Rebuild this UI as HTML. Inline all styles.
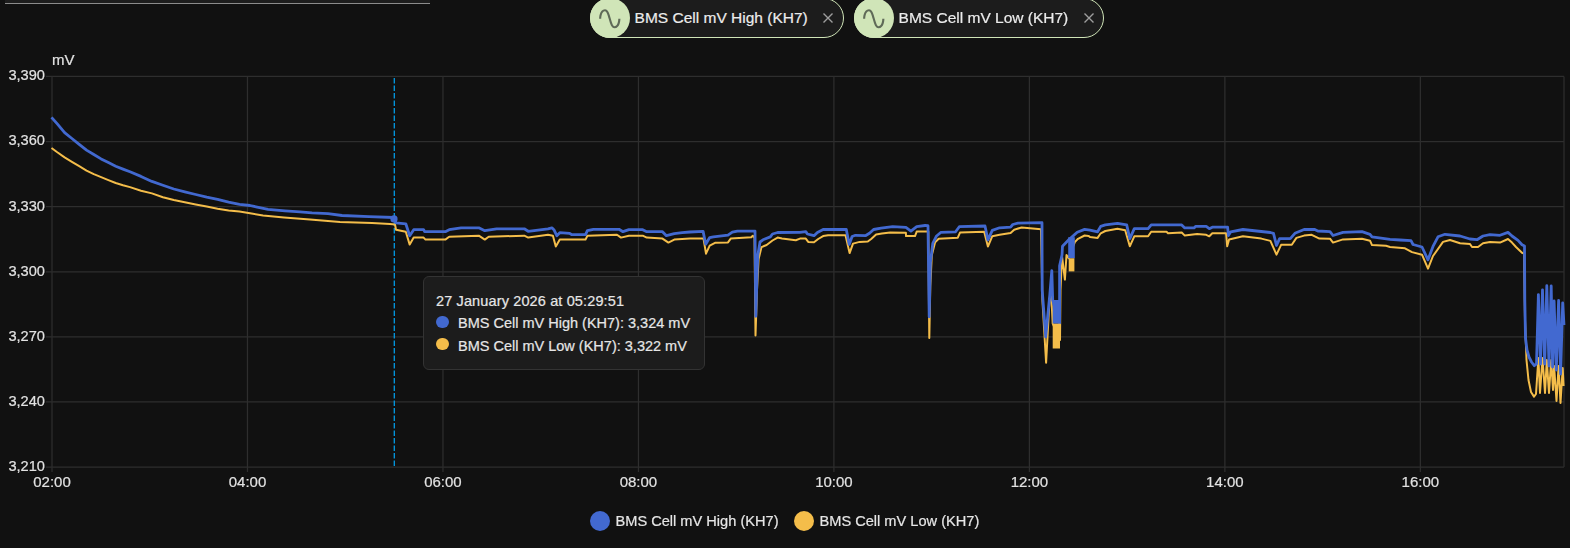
<!DOCTYPE html>
<html><head><meta charset="utf-8">
<style>
html,body{margin:0;padding:0;}
body{width:1570px;height:548px;background:#111111;overflow:hidden;position:relative;font-family:"Liberation Sans",sans-serif;}
.field{position:absolute;left:5px;top:-10px;width:425px;height:13px;background:#1d1d1d;border-bottom:1.25px solid #8c8c8c;}
.chip{position:absolute;top:-2px;height:38px;border:1px solid #d0e5b8;border-radius:21px;background:#1c1c1c;box-sizing:content-box;}
.chip .ic{position:absolute;left:-1px;top:-1.2px;width:40px;height:40px;border-radius:50%;background:#d0e5b8;}
.chip .ic svg{position:absolute;left:6.7px;top:7.9px;width:25.5px;height:25.5px;}
.chip .tx{position:absolute;top:10.3px;font-size:15.5px;color:#ececec;-webkit-text-stroke:0.2px #ececec;white-space:nowrap;line-height:17px;}
.chip .x{position:absolute;top:13.7px;width:10px;height:10px;}
svg.chart{position:absolute;left:0;top:0;will-change:transform;}
.tip{position:absolute;left:423px;top:276px;width:280px;height:91.6px;background:#1c1c1c;border:1.25px solid #333333;border-radius:6px;color:#e6e6e6;font-size:14.5px;-webkit-text-stroke:0.2px #e6e6e6;}
.tip .r{position:absolute;left:12px;white-space:nowrap;line-height:17px;}
.tip .d{position:absolute;left:12px;width:12.5px;height:12.5px;border-radius:50%;}
.legend{position:absolute;top:510px;font-size:14.6px;color:#e6e6e6;-webkit-text-stroke:0.2px #e6e6e6;white-space:nowrap;}
.legend .d{position:absolute;width:20px;height:20px;border-radius:50%;top:0.8px;}
.legend .t{position:absolute;top:2.6px;line-height:17px;}
</style></head><body>
<div class="field"></div>
<svg class="chart" width="1570" height="548" viewBox="0 0 1570 548">
<g stroke="#2e2e2e" stroke-width="1.25" fill="none"><line x1="46" y1="76.40" x2="1564" y2="76.40"/><line x1="46" y1="141.52" x2="1564" y2="141.52"/><line x1="46" y1="206.63" x2="1564" y2="206.63"/><line x1="46" y1="271.75" x2="1564" y2="271.75"/><line x1="46" y1="336.87" x2="1564" y2="336.87"/><line x1="46" y1="401.98" x2="1564" y2="401.98"/><line x1="46" y1="467.10" x2="1564" y2="467.10"/><line x1="52.00" y1="76.4" x2="52.00" y2="472"/><line x1="247.48" y1="76.4" x2="247.48" y2="472"/><line x1="442.96" y1="76.4" x2="442.96" y2="472"/><line x1="638.44" y1="76.4" x2="638.44" y2="472"/><line x1="833.92" y1="76.4" x2="833.92" y2="472"/><line x1="1029.40" y1="76.4" x2="1029.40" y2="472"/><line x1="1224.88" y1="76.4" x2="1224.88" y2="472"/><line x1="1420.36" y1="76.4" x2="1420.36" y2="472"/><line x1="1564" y1="76.4" x2="1564" y2="467.1"/></g>
<line x1="394.3" y1="78" x2="394.3" y2="467" stroke="#039be5" stroke-width="1.3" stroke-dasharray="5.5 2"/>
<g font-family="'Liberation Sans', sans-serif" font-size="15" fill="#e2e2e2" stroke="#e2e2e2" stroke-width="0.2"><text x="45" y="80.30" text-anchor="end" textLength="36.6" lengthAdjust="spacingAndGlyphs">3,390</text><text x="45" y="145.42" text-anchor="end" textLength="36.6" lengthAdjust="spacingAndGlyphs">3,360</text><text x="45" y="210.53" text-anchor="end" textLength="36.6" lengthAdjust="spacingAndGlyphs">3,330</text><text x="45" y="275.65" text-anchor="end" textLength="36.6" lengthAdjust="spacingAndGlyphs">3,300</text><text x="45" y="340.77" text-anchor="end" textLength="36.6" lengthAdjust="spacingAndGlyphs">3,270</text><text x="45" y="405.88" text-anchor="end" textLength="36.6" lengthAdjust="spacingAndGlyphs">3,240</text><text x="45" y="471.00" text-anchor="end" textLength="36.6" lengthAdjust="spacingAndGlyphs">3,210</text><text x="52.00" y="487.3" text-anchor="middle">02:00</text><text x="247.48" y="487.3" text-anchor="middle">04:00</text><text x="442.96" y="487.3" text-anchor="middle">06:00</text><text x="638.44" y="487.3" text-anchor="middle">08:00</text><text x="833.92" y="487.3" text-anchor="middle">10:00</text><text x="1029.40" y="487.3" text-anchor="middle">12:00</text><text x="1224.88" y="487.3" text-anchor="middle">14:00</text><text x="1420.36" y="487.3" text-anchor="middle">16:00</text><text x="52" y="65">mV</text></g>
<polyline points="51.5,148 57.3,152.3 64.6,157.4 71.9,161.8 79.2,166.2 86.5,170.6 93.8,174.2 101.1,177.2 108.4,180.1 115.7,183 123,185.2 130,187.1 141,190.7 151.9,193.4 162.9,197.2 173.8,200 184.8,202.2 195.7,204.4 206.7,206.5 217.6,208.7 228.6,210.4 239.5,211.5 250,213.2 263,215.5 284,217.5 310,219.6 340,222.1 372,223.1 390,224.1 395,224.5 396,229.7 405.8,231.7 409.7,244.6 413.7,237.6 423.6,237.6 425.5,239.6 445.3,239.6 449.2,236.7 478.8,235.7 484.8,239.6 488.7,236.7 524.3,235.7 528.2,237.6 548,234.7 552.9,235.7 555.8,246.5 559.8,239.6 585.5,239.6 587.4,235.7 617,234.7 621,237.6 628.9,235.7 642.7,235.7 646.7,237.6 662.5,238.6 668.4,242.6 674.3,239.6 690,238.4 703.5,238.5 706,253.7 709.7,245.7 715.5,242.7 728,242.4 730.9,238.4 751.3,237.3 752.8,235.8 754.5,237.5 755.5,335.5 757,290 758.6,259 761.5,247.1 766.6,245 772.5,240.5 777.6,237.6 782,238.4 795.8,240.2 800,238.6 805.8,238.6 808.2,241.9 814,242.3 818.2,239 823.1,236.1 828.1,235.3 845.5,235.3 849.6,253.1 853,243.6 859.6,241.9 867.8,241.5 871.2,239 876.1,234.5 881.9,233.6 890.2,232.4 905.9,232.8 906,236.1 915,236.1 916.7,231.6 928.3,231.6 929.3,338 930.3,286 931.8,255.2 935.1,242.2 938.7,238.7 957.8,237.7 960,232.6 984.2,231.8 987.9,246.5 992.3,236.2 999.6,234.8 1010.6,233 1014.2,229.7 1021.6,227.5 1041,229.3 1042.4,300 1046.1,362.8 1049.5,300 1051,290 1052.7,323.7 1060,340 1060.5,290 1062,256 1064.9,279.6 1066.5,255 1068.7,258.3 1074.8,242.1 1078,238.8 1084.6,235.5 1088.7,235.9 1090,237.1 1097.6,237.9 1100.7,233.3 1105.3,231 1117.5,228.7 1125.2,230.2 1129.8,246.3 1134.3,236.3 1148.1,236.3 1151.2,231.8 1166.5,231.8 1168,233.3 1181.7,232.5 1184.8,235.6 1197,234.1 1206.2,234.8 1209.3,236.3 1212.3,233.3 1226.1,233.3 1227.2,246.3 1229.1,239.4 1242.9,236.3 1261.3,238.6 1270.4,240.9 1276.5,254.7 1281.1,244.8 1291.8,244.8 1296.4,237.9 1304.1,235.6 1311.7,234.8 1319.4,238.6 1330,238.7 1333,242.6 1343,239.4 1362,238.7 1370,240.7 1372,245.1 1386,245.8 1390,247 1405,248.3 1412,252.1 1422,254.7 1428,268.7 1433,256 1443,241.9 1450,240 1460,243.3 1470,244 1472,247 1478,247 1483,243.3 1490,241.9 1500,242.6 1508,239 1512,242.6 1516,247 1522,252.8 1524,253.5 1525,320 1526.5,360 1528.5,380 1531,392 1534,396.6 1536,394 1538.4,358 1540,393 1542.5,358 1545,393 1546.8,360 1549,393 1551.2,360 1553,390 1554.1,366 1556.5,401 1558.6,366 1560.5,403 1562.7,368 1563.6,386" fill="none" stroke="#f4bd4a" stroke-width="2" stroke-linejoin="round"/>
<polyline points="51.5,117.3 57.3,123.9 64.6,132.6 71.9,138.5 79.2,144.3 86.5,150.1 93.8,154.5 101.1,158.9 108.4,162.6 115.7,166.2 123,169.1 130,171.8 141,176.4 151.9,181.4 162.9,185.2 173.8,189 184.8,191.8 195.7,194.5 206.7,197.2 217.6,199.4 228.6,202.2 239.5,204.4 250,205.5 256,206.8 268,209.4 285,210.9 300,211.9 312,212.9 328,213.6 342,215.5 369,216.7 394,217.5 395.9,222.8 405.8,223.8 409.7,235.7 413.7,229.7 423.6,229.7 424.6,231.7 445.3,231.7 449.2,229.7 461.1,227.8 478.8,227.8 484.8,230.7 496.6,228.8 524.3,228.8 528.2,231.3 548,228.8 551.9,227.8 553.9,229.7 556.8,235.7 559.8,232.7 569.7,233.3 571.6,234.7 585.5,234.7 587.4,230.7 593.4,229.3 619,229.3 623,231.7 628.9,229.7 642.7,229.7 646.7,231.7 662.5,231.7 666.4,235.7 674.3,233.7 682.2,232.7 690,232 703.1,231.4 705.7,244.2 709.7,237.6 713.4,236.9 728,235.1 732.3,232.2 737.4,231.1 755,231.1 755.8,316.3 757.2,270 757.9,255 760,242 763,239.8 770.3,236.9 772.5,234 777.6,232.5 800,232.3 805.8,231.6 807.4,234 814,235.7 817.4,232.4 823.1,229.5 846.3,229.5 849.2,244.4 852.1,236.5 855.4,235.3 865.4,235.7 869.5,233.2 873.6,229.5 881.1,228.2 892.7,226.6 905.9,227.4 910.9,231.1 916.7,226.6 925,225.5 928,225.7 929.2,316.8 930.4,262.3 932.8,243.4 936.3,236.3 941,232.3 955.6,231.8 959.3,226.7 985,226 987.9,239.9 992.3,230.4 999.6,227.8 1010.6,227.1 1012.8,224.5 1017.9,223.1 1042,222.7 1042.2,290 1045.7,336.9 1049.8,295 1051.8,270.6 1052.7,300 1059.6,323 1059.6,265.7 1062,255 1062.5,246.2 1069,239.6 1077.2,232.2 1084.6,229.4 1090,230.2 1097.6,231.8 1100.7,226.4 1105.3,224.9 1117.5,223.3 1126.7,224.9 1129.8,238.6 1134.3,228.7 1148.1,228.7 1151.2,224.9 1181.7,224.9 1184.8,227.9 1194,227.9 1195.5,226.4 1206.2,226.4 1209.3,228.7 1212.3,227.2 1227.6,227.2 1228.4,235.6 1230.7,231.8 1242.9,229.5 1270.4,232.5 1273.5,233.3 1276.5,245.5 1279.6,238.6 1290.3,238.6 1294.9,233.3 1304.1,229.5 1314.8,229.5 1317.8,231 1330,231.7 1333,235.5 1343,232.3 1362,231.7 1370,234.3 1372,236.8 1390,239.4 1400,240 1411,240.7 1413,244.5 1422,247 1428,259.8 1433,246.4 1438,236.8 1445,234.3 1460,236 1470,239 1477,239.7 1483,236 1490,234.6 1500,235.3 1508,232.4 1512,236 1518,240.4 1522,244.8 1524.5,246 1524.8,300 1525.5,338 1527,350 1529,357 1531.5,362 1534.3,365.7 1536.5,364 1538.4,294.6 1540.5,364 1542.5,289.8 1544.7,364 1546.8,285.7 1549,366 1551.2,285.9 1552.6,367 1554.1,301 1556.3,370 1558.6,300.5 1560.6,374 1562.7,302.9 1564,325" fill="none" stroke="#4269d0" stroke-width="2.8" stroke-linejoin="round"/>
<rect x="1052.7" y="300" width="6.9" height="23.7" fill="#4269d0"/>
<rect x="1052.7" y="323.7" width="7.3" height="24.8" fill="#f4bd4a"/>
<rect x="1068.2" y="237.2" width="6.6" height="21.1" fill="#4269d0"/>
<rect x="1068.7" y="258.3" width="5.7" height="13.1" fill="#f4bd4a"/>
<circle cx="394" cy="218.9" r="3.6" fill="#4269d0"/>
</svg>
<div class="chip" style="left:590px;width:251.5px;">
  <div class="ic"><svg width="24" height="24" viewBox="0 0 24 24"><path fill="#5f6a58" d="M16.5,21C13.5,21 12.31,16.76 11.05,12.28C10.14,9.04 9,5 7.5,5C4.11,5 4,11.93 4,12H2C2,11.63 2.06,3 7.5,3C10.5,3 11.71,7.25 12.97,11.74C13.83,14.8 15,19 16.5,19C19.94,19 20.03,12.07 20.030,12H22.03C22.03,12.37 21.97,21 16.5,21Z"/></svg></div>
  <div class="tx" style="left:43.6px;">BMS Cell mV High (KH7)</div>
  <svg class="x" style="left:231.9px" viewBox="0 0 10 10"><path d="M0.5 0.5L9.5 9.5M9.5 0.5L0.5 9.5" stroke="#9e9e9e" stroke-width="1.4"/></svg>
</div>
<div class="chip" style="left:854px;width:247.7px;">
  <div class="ic"><svg width="24" height="24" viewBox="0 0 24 24"><path fill="#5f6a58" d="M16.5,21C13.5,21 12.31,16.76 11.05,12.28C10.14,9.04 9,5 7.5,5C4.11,5 4,11.93 4,12H2C2,11.63 2.06,3 7.5,3C10.5,3 11.71,7.25 12.97,11.74C13.83,14.8 15,19 16.5,19C19.94,19 20.03,12.07 20.030,12H22.03C22.03,12.37 21.97,21 16.5,21Z"/></svg></div>
  <div class="tx" style="left:43.6px;">BMS Cell mV Low (KH7)</div>
  <svg class="x" style="left:228.9px" viewBox="0 0 10 10"><path d="M0.5 0.5L9.5 9.5M9.5 0.5L0.5 9.5" stroke="#9e9e9e" stroke-width="1.4"/></svg>
</div>
<div class="tip">
  <div class="r" style="top:15.8px;letter-spacing:0.13px;">27 January 2026 at 05:29:51</div>
  <div class="d" style="top:38.6px;background:#4269d0;"></div>
  <div class="r" style="top:37.7px;left:34px;">BMS Cell mV High (KH7): 3,324 mV</div>
  <div class="d" style="top:60.8px;background:#f4bd4a;"></div>
  <div class="r" style="top:60.8px;left:34px;">BMS Cell mV Low (KH7): 3,322 mV</div>
</div>
<div class="legend" style="left:590px;">
  <div class="d" style="left:0;background:#4269d0;"></div><div class="t" style="left:25.5px;">BMS Cell mV High (KH7)</div>
  <div class="d" style="left:204px;background:#f4bd4a;"></div><div class="t" style="left:229.5px;">BMS Cell mV Low (KH7)</div>
</div>
</body></html>
